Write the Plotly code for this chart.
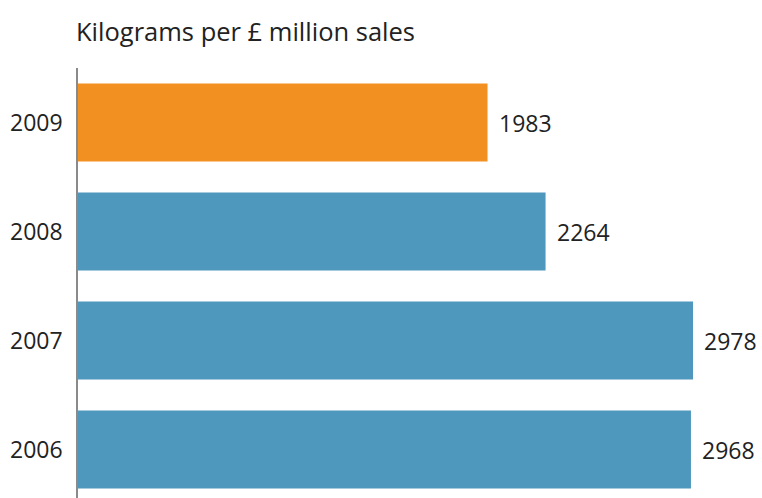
import plotly.graph_objects as go

# Packaging intensity by year
years = ["2006", "2007", "2008", "2009"]
kg_per_million = [2968, 2978, 2264, 1983]
bar_colors = ["#4f98bd", "#4f98bd", "#4f98bd", "#f39022"]
title_text = "Kilograms per £ million sales"

FONT = "Open Sans"
TEXT_COLOR = "#222222"

fig = go.Figure(
    go.Bar(
        y=years,
        x=kg_per_million,
        orientation="h",
        marker=dict(color=bar_colors, line=dict(width=0)),
        hoverinfo="skip",
    )
)

# Value labels just past the end of each bar (category index used for y)
for idx, val in enumerate(kg_per_million):
    fig.add_annotation(
        x=val, y=idx, xref="x", yref="y",
        text=str(val), showarrow=False,
        xanchor="left", yanchor="middle", xshift=9,
        font=dict(family=FONT, size=23, color=TEXT_COLOR),
    )

# Chart heading
fig.add_annotation(
    xref="x domain", yref="paper", x=0, y=1.0,
    xshift=-4, yshift=18,
    text=title_text, showarrow=False,
    xanchor="left", yanchor="bottom",
    font=dict(family=FONT, size=25.5, color=TEXT_COLOR),
)

fig.update_layout(
    width=762, height=498,
    margin=dict(l=78, r=0, t=68, b=0),
    paper_bgcolor="white", plot_bgcolor="white",
    bargap=0.285,
    showlegend=False,
    font=dict(family=FONT, color=TEXT_COLOR),
    xaxis=dict(
        range=[0, 3312],
        showticklabels=False, showgrid=False, zeroline=False,
        showline=False, ticks="", fixedrange=True,
    ),
    yaxis=dict(
        type="category",
        categoryorder="array", categoryarray=years,
        range=[-0.445, 3.5],
        showline=True, linecolor="#8a8a8a", linewidth=1.5,
        showgrid=False, zeroline=False,
        ticks="outside", ticklen=9, tickcolor="rgba(0,0,0,0)",
        tickfont=dict(family=FONT, size=23, color=TEXT_COLOR),
        fixedrange=True,
    ),
)

fig.write_html("out.html")
